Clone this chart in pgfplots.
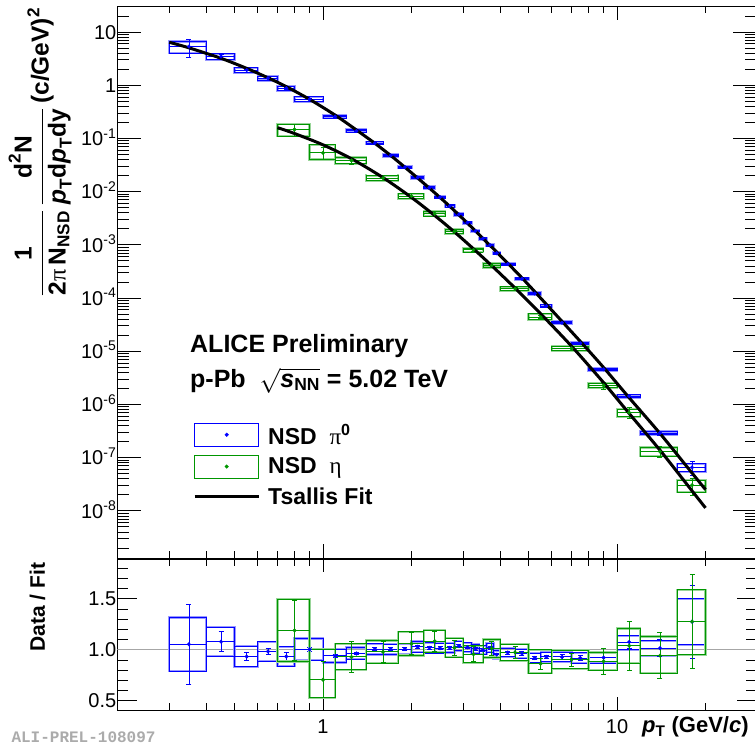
\documentclass[border=0pt]{standalone}
\usepackage{amsmath}
\usepackage{fontspec}
\setmainfont{Liberation Sans}
\newfontfamily\sym{Liberation Serif}
\newfontfamily\monofont{Liberation Mono}
\usepackage{pgfplots}
\usepackage{pgfplotstable}
\pgfplotsset{compat=1.18}
\definecolor{pizc}{RGB}{0,0,255}
\definecolor{etac}{RGB}{0,150,0}
\newcommand{\bt}[1]{\text{\bfseries #1}}

\pgfplotstableread{
x hw y r stat sp sm
0.35 0.05 5.31 1.054 0.37 0.25 0.25
0.45 0.05 3.46 1.08 0.09 0.13 0.13
0.55 0.05 1.93 0.934 0.04 0.107 0.107
0.65 0.05 1.355 0.984 0.03 0.097 0.097
0.75 0.05 0.878 0.934 0.04 0.102 0.102
0.9 0.1 0.544 1.004 0.02 0.106 0.106
1.1 0.1 0.257 0.94 0.02 0.068 0.068
1.3 0.1 0.1383 0.964 0.015 0.06 0.06
1.5 0.1 0.0817 1.007 0.015 0.053 0.053
1.7 0.1 0.04788 1.005 0.015 0.05 0.05
1.9 0.1 0.02884 1.007 0.015 0.05 0.05
2.1 0.1 0.01845 1.03 0.015 0.05 0.05
2.3 0.1 0.01187 1.02 0.015 0.05 0.05
2.5 0.1 0.00784 1.015 0.015 0.048 0.048
2.7 0.1 0.00539 1.02 0.015 0.046 0.046
2.9 0.1 0.00373 1.037 0.015 0.045 0.045
3.1 0.1 0.002617 1.025 0.015 0.043 0.043
3.3 0.1 0.001825 1.01 0.015 0.042 0.042
3.5 0.1 0.001311 0.997 0.015 0.042 0.042
3.7 0.1 0.000985 1.02 0.015 0.042 0.042
3.9 0.1 0.000694 0.953 0.015 0.042 0.042
4.25 0.25 0.000435 0.973 0.015 0.042 0.042
4.75 0.25 0.000230 0.963 0.02 0.045 0.045
5.25 0.25 0.0001213 0.92 0.02 0.05 0.05
5.75 0.25 7.09e-5 0.93 0.02 0.05 0.05
6.5 0.5 3.44e-5 0.93 0.025 0.05 0.05
7.5 0.5 1.409e-5 0.92 0.03 0.055 0.055
9 1 4.57e-6 0.923 0.04 0.06 0.06
11 1 1.435e-6 1.076 0.06 0.057 0.071
14 2 2.90e-7 1.016 0.08 0.073 0.075
18 2 6.54e-8 1.275 0.28 0.176 0.176
}\pizero

\pgfplotstableread{
x hw y r stat sp sm
0.8 0.1 0.147 1.19 0.25 0.256 0.256
1.0 0.1 0.0535 0.707 0.25 0.424 0.25
1.25 0.15 0.0385 0.93 0.16 0.137 0.137
1.6 0.2 0.01795 0.98 0.107 0.114 0.114
2.0 0.2 0.00823 1.06 0.1 0.11 0.11
2.4 0.2 0.00384 1.084 0.092 0.098 0.098
2.8 0.2 0.001777 1.02 0.07 0.091 0.091
3.25 0.25 0.000803 0.957 0.075 0.087 0.087
3.75 0.25 0.000410 1.013 0.07 0.087 0.087
4.5 0.5 0.0001498 0.974 0.06 0.084 0.084
5.5 0.5 4.36e-5 0.864 0.06 0.157 0.11
7 1 1.127e-5 0.904 0.07 0.10 0.10
9 1 2.28e-6 0.887 0.145 0.098 0.098
11 1 7.03e-7 1.04 0.23 0.163 0.163
14 2 1.30e-7 0.943 0.24 0.198 0.183
18 2 3.03e-8 1.277 0.36 0.245 0.254
}\etatab

\pgfplotstableread{
x y
0.3 6.40
0.35 5.04
0.45 3.20
0.55 2.07
0.65 1.377
0.75 0.940
0.9 0.542
1.1 0.2735
1.3 0.1435
1.5 0.0811
1.7 0.04764
1.9 0.02864
2.3 0.01164
2.7 0.005284
3.1 0.002553
3.5 0.001315
3.9 7.28e-4
4.75 2.39e-4
5.75 7.62e-5
7.5 1.531e-5
9 4.95e-6
11 1.334e-6
14 2.85e-7
18 5.13e-8
20 2.51e-8
}\pizerofit

\pgfplotstableread{
x y
0.7 0.1592
0.8 0.1236
1.0 0.0757
1.25 0.0414
1.6 0.01832
2.0 0.00776
2.4 0.00354
2.8 0.001742
3.25 8.39e-4
3.75 4.05e-4
4.5 1.538e-4
5.5 5.05e-5
7 1.247e-5
9 2.57e-6
11 6.76e-7
14 1.38e-7
18 2.37e-8
20 1.135e-8
}\etafit

\pgfplotsset{
  nomark/.style={only marks, mark=text, text mark={}, mark options={draw=none, fill=none}},
  hedge/.style={nomark, forget plot, error bars/.cd, x dir=both, x explicit, error mark=none, error bar style={#1}},
  vedge/.style={nomark, forget plot, error bars/.cd, y dir=both, y explicit relative, error mark=none, error bar style={#1}},
}
\newcommand{\sysbox}[3]{%
  \addplot[hedge={#3}] table[x=x, y expr={\thisrow{#2}*(1+\thisrow{sp})}, x error=hw] {#1};
  \addplot[hedge={#3}] table[x=x, y expr={\thisrow{#2}*(1-\thisrow{sm})}, x error=hw] {#1};
  \addplot[vedge={#3}] table[x expr={\thisrow{x}-\thisrow{hw}}, y=#2, y error plus=sp, y error minus=sm] {#1};
  \addplot[vedge={#3}] table[x expr={\thisrow{x}+\thisrow{hw}}, y=#2, y error plus=sp, y error minus=sm] {#1};
}
\newcommand{\datapts}[3]{%
  \addplot[forget plot, nomark, error bars/.cd, x dir=both, x explicit, error mark=none, error bar style={#3, line width=0.9pt}] table[x=x, y=#2, x error=hw] {#1};
  \addplot[forget plot, #3, only marks, mark=*, mark size=1.8pt, error bars/.cd, y dir=both, y explicit relative, error mark options={rotate=90, mark size=2.5pt, line width=0.9pt}, error bar style={#3, line width=0.9pt}] table[x=x, y=#2, y error=stat] {#1};
}
\newcommand{\series}[3]{% table, column, colour
  \sysbox{#1}{#2}{#3!40, line width=2.2pt, line cap=rect}
  \sysbox{#1}{#2}{#3, line width=0.9pt, line cap=rect}
  \datapts{#1}{#2}{#3}
}

\begin{document}
\begin{tikzpicture}
\useasboundingbox (0pt,0pt) rectangle (755pt,746pt);
\begin{axis}[
  at={(117.5pt,188pt)}, anchor=south west, scale only axis,
  width=639.8pt, height=552pt,
  xmode=log, ymode=log, xmin=0.2, xmax=30, ymin=1.3e-9, ymax=30.8,
  xtick={1,10}, xticklabels={},
  minor xtick={0.3,0.4,0.5,0.6,0.7,0.8,0.9,2,3,4,5,6,7,8,9,20},
  ytick={1e-8,1e-7,1e-6,1e-5,1e-4,1e-3,1e-2,1e-1,1,10},
  yticklabels={10\textsuperscript{-8},10\textsuperscript{-7},10\textsuperscript{-6},10\textsuperscript{-5},10\textsuperscript{-4},10\textsuperscript{-3},10\textsuperscript{-2},10\textsuperscript{-1},1,10},
  minor ytick={2e-9,3e-9,4e-9,5e-9,6e-9,7e-9,8e-9,9e-9,
    2e-8,3e-8,4e-8,5e-8,6e-8,7e-8,8e-8,9e-8,
    2e-7,3e-7,4e-7,5e-7,6e-7,7e-7,8e-7,9e-7,
    2e-6,3e-6,4e-6,5e-6,6e-6,7e-6,8e-6,9e-6,
    2e-5,3e-5,4e-5,5e-5,6e-5,7e-5,8e-5,9e-5,
    2e-4,3e-4,4e-4,5e-4,6e-4,7e-4,8e-4,9e-4,
    2e-3,3e-3,4e-3,5e-3,6e-3,7e-3,8e-3,9e-3,
    2e-2,3e-2,4e-2,5e-2,6e-2,7e-2,8e-2,9e-2,
    0.2,0.3,0.4,0.5,0.6,0.7,0.8,0.9,
    2,3,4,5,6,7,8,9,20,30},
  major tick length=24pt, minor tick length=12pt,
  xtick style={/pgfplots/major tick length=14pt, /pgfplots/minor tick length=7pt},
  tick style={black, line width=0.8pt},
  axis line style={line width=0.8pt},
  tick label style={font=\fontsize{20}{24}\selectfont},
  yticklabel style={anchor=base east, yshift=-7.2pt, inner sep=1pt},
  ylabel={$\dfrac{\bt{1}}{\bt{2}\text{\sym\mdseries π}\,\bt{N}_{\bt{NSD}}}\,\dfrac{\bt{d}^{\bt{2}}\bt{N}}{\bt{\itshape p}_{\bt{T}}\bt{d\itshape p}_{\bt{T}}\bt{dy}}$\,\textbf{(c/GeV)\textsuperscript{2}}},
  ylabel style={at={(axis description cs:-0.121,0.735)}, anchor=center, font=\fontsize{24.5}{28}\selectfont},
  legend cell align=left,
  legend style={at={(axis description cs:0.118,0.247)}, anchor=north west, draw=none, fill=none,
    font=\fontsize{23}{27}\selectfont\bfseries, row sep=7pt, inner sep=0pt,
    /tikz/every odd column/.append style={column sep=6pt}},
]
\series{\pizero}{y}{pizc}
\series{\etatab}{y}{etac}
\addplot[forget plot, black, line width=3pt, smooth] table[x=x, y=y] {\pizerofit};
\addplot[forget plot, black, line width=3pt, smooth] table[x=x, y=y] {\etafit};
\node[anchor=base west, inner sep=0pt, font=\fontsize{25}{30}\selectfont\bfseries] at (axis description cs:0.1133,0.3725) {ALICE Preliminary};
\node[anchor=base west, inner sep=0pt, font=\fontsize{25}{30}\selectfont\bfseries] at (axis description cs:0.1133,0.3095) {p-Pb\ \ $\smash{\sqrt{\bt{\itshape s}_{\bt{NN}}}}$ = 5.02 TeV};
\addlegendimage{legend image code/.code={\draw[pizc, line width=0.9pt] (0pt,-11.5pt) rectangle (64pt,11.5pt); \fill[pizc] (32pt,0pt) circle (1.8pt);}}
\addlegendentry{NSD\ \ {\sym\mdseries π}\textsuperscript{0}}
\addlegendimage{legend image code/.code={\draw[etac, line width=0.9pt] (0pt,-11.5pt) rectangle (64pt,11.5pt); \fill[etac] (32pt,0pt) circle (1.8pt);}}
\addlegendentry{NSD\ \ {\sym\mdseries η}}
\addlegendimage{legend image code/.code={\draw[black, line width=3pt] (0pt,0pt) -- (64pt,0pt);}}
\addlegendentry{Tsallis Fit}
\end{axis}

\begin{axis}[
  at={(117.5pt,36pt)}, anchor=south west, scale only axis,
  width=639.8pt, height=151pt,
  xmode=log, xmin=0.2, xmax=30, ymin=0.41, ymax=1.89,
  xtick={1,10}, xticklabels={1,10},
  minor xtick={0.3,0.4,0.5,0.6,0.7,0.8,0.9,2,3,4,5,6,7,8,9,20},
  ytick={0.5,1,1.5}, yticklabels={0.5,1.0,1.5},
  minor ytick={0.6,0.7,0.8,0.9,1.1,1.2,1.3,1.4,1.6,1.7,1.8},
  major tick length=20pt, minor tick length=11pt,
  xtick style={/pgfplots/major tick length=13pt, /pgfplots/minor tick length=7pt},
  tick style={black, line width=0.8pt},
  axis line style={line width=0.8pt},
  tick label style={font=\fontsize{20}{24}\selectfont},
  yticklabel style={inner sep=1pt},
  xticklabel style={yshift=-6pt},
  ylabel={\textbf{Data / Fit}},
  ylabel style={at={(axis description cs:-0.125,0.68)}, anchor=center, font=\fontsize{21}{25}\selectfont},
  xlabel={\textbf{\textit{p}\textsubscript{T} (GeV/\textit{c})}},
  xlabel style={at={(axis description cs:0.992,-0.152)}, anchor=base east, font=\fontsize{22}{26}\selectfont},
]
\addplot[forget plot, black!35, line width=1pt] coordinates {(0.2,1) (30,1)};
\series{\pizero}{r}{pizc}
\series{\etatab}{r}{etac}
\end{axis}
\node[anchor=base west, text=black!33, font=\monofont\bfseries\fontsize{16}{18}\selectfont] at (8pt,3pt) {ALI-PREL-108097};
\end{tikzpicture}
\end{document}
